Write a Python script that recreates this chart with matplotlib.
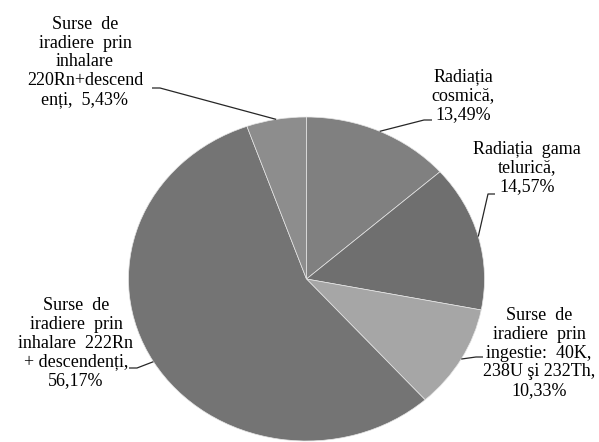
import numpy as np
import matplotlib
matplotlib.use("Agg")
import matplotlib.pyplot as plt

# slices, clockwise from 12 o'clock
labels = ["Radiația\ncosmică,\n13,49%",
          "Radiația  gama\ntelurică,\n14,57%",
          "Surse  de\niradiere  prin\ningestie:  40K,\n238U şi 232Th,\n10,33%",
          "Surse  de\niradiere  prin\ninhalare  222Rn\n+ descendenți,\n56,17%",
          "Surse  de\niradiere  prin\ninhalare\n220Rn+descend\nenți,  5,43%"]
values = [13.49, 14.57, 10.33, 56.17, 5.43]
colors = ["#808080", "#6f6f6f", "#a6a6a6", "#747474", "#8d8d8d"]

# label centres and leader-line start (image pixels, y down)
text_pos = [(463, 96), (527, 168), (539, 353), (76, 343), (85, 62)]
stub_pos = [((432, 120), (424, 120)),
            ((495, 194), (488, 194)),
            ((483, 357), (476, 357)),
            ((129, 368), (137, 368)),
            ((152, 88), (160, 88))]

W, H = 599, 442
fig = plt.figure(figsize=(W / 100, H / 100), dpi=100)
# pie is slightly squashed in the original
x0, x1, y0, y1 = 128.5, 484.5, 117, 441
ax = fig.add_axes([x0 / W, 1 - y1 / H, (x1 - x0) / W, (y1 - y0) / H])

wedges, _ = ax.pie(values, colors=colors, startangle=90, counterclock=False,
                   wedgeprops=dict(edgecolor="#e6e6e6", linewidth=0.5))
ax.set_aspect("auto")
ax.set_xlim(-1, 1)
ax.set_ylim(-1, 1)
ax.axis("off")

def to_data(px, py):
    return ax.transData.inverted().transform((px, H - py))

cum = np.cumsum([0] + values[:-1])
for i, v in enumerate(values):
    mid = np.deg2rad(90 - (cum[i] + v / 2) * 3.6)
    ex, ey = np.cos(mid), np.sin(mid)
    a = to_data(*stub_pos[i][0])
    b = to_data(*stub_pos[i][1])
    ax.plot([a[0], b[0], ex], [a[1], b[1], ey], color="#262626", lw=0.9,
            clip_on=False, solid_capstyle="butt")
    tx, ty = text_pos[i]
    fig.text(tx / W, 1 - ty / H, labels[i], ha="center", va="center",
             fontsize=13, family="Liberation Serif", linespacing=1.15,
             color="black")

fig.savefig("out.png", dpi=100)
